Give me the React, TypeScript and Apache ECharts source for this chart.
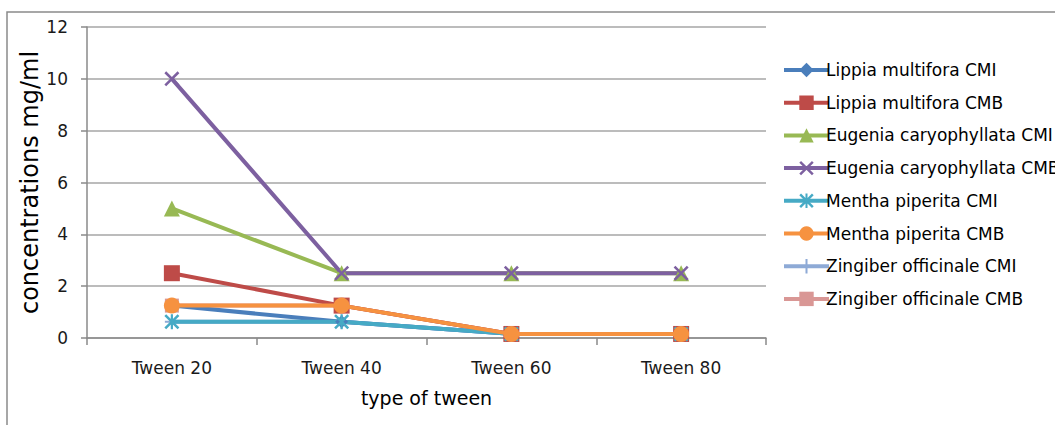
import React, { useEffect, useRef } from "react";
import * as echarts from "echarts";

const categories = ["Tween 20", "Tween 40", "Tween 60", "Tween 80"];
const yTicks = { min: 0, max: 12, interval: 2 };

const lippiaCMI = [1.25, 0.625, 0.156, 0.156];
const lippiaCMB = [2.5, 1.25, 0.156, 0.156];
const eugeniaCMI = [5, 2.5, 2.5, 2.5];
const eugeniaCMB = [10, 2.5, 2.5, 2.5];
const menthaCMI = [0.625, 0.625, 0.156, 0.156];
const menthaCMB = [1.25, 1.25, 0.156, 0.156];
const zingiberCMI = [0.625, 0.625, 0.156, 0.156];
const zingiberCMB = [1.25, 1.25, 0.156, 0.156];

const X_PATH = "path://M0,1.2 L1.2,0 L10,8.8 L8.8,10 Z M8.8,0 L10,1.2 L1.2,10 L0,8.8 Z";
const STAR_PATH =
  "path://M0,1.2 L1.2,0 L10,8.8 L8.8,10 Z M8.8,0 L10,1.2 L1.2,10 L0,8.8 Z M4.3,0 L5.7,0 L5.7,10 L4.3,10 Z";
const PLUS_PATH = "path://M4.3,0 L5.7,0 L5.7,10 L4.3,10 Z M0,4.3 L10,4.3 L10,5.7 L0,5.7 Z";
const DASH_PATH = "path://M0,4 L10,4 L10,6 L0,6 Z";

const FONT = "DejaVu Sans";

export default function App() {
  const ref = useRef<HTMLDivElement>(null);
  useEffect(() => {
    document.body.style.margin = "0";
    if (!ref.current) return;
    const chart = echarts.init(ref.current, undefined, { renderer: "svg" });
    const mk = (
      name: string,
      data: number[],
      color: string,
      symbol: string,
      symbolSize: number,
      z: number
    ) => ({
      name,
      type: "line",
      data,
      symbol,
      symbolSize,
      z,
      lineStyle: { color, width: 4 },
      itemStyle: { color },
      emphasis: { disabled: true },
    });
    chart.setOption({
      animation: false,
      textStyle: { fontFamily: FONT },
      grid: { left: 87, top: 27, width: 679, height: 311 },
      graphic: [
        {
          type: "rect",
          shape: { x: 7, y: 12, width: 1200, height: 600 },
          style: { fill: "none", stroke: "#8a8a8a", lineWidth: 1.5 },
          silent: true,
          z: -1,
        },
      ],
      legend: {
        orient: "vertical",
        left: 777,
        top: 55,
        itemWidth: 45,
        itemHeight: 18,
        itemGap: 12.7,
        lineStyle: { width: 4 },
        textStyle: {
          fontFamily: FONT,
          fontSize: 17,
          color: "#000",
          lineHeight: 20,
          padding: [0, 0, 0, -8],
        },
      },
      xAxis: {
        type: "category",
        data: categories,
        boundaryGap: true,
        name: "type of tween",
        nameLocation: "middle",
        nameGap: 50,
        nameTextStyle: { fontFamily: FONT, fontSize: 19, color: "#000" },
        axisLine: { lineStyle: { color: "#8a8a8a", width: 1.5 } },
        axisTick: { show: true, length: 7, lineStyle: { color: "#8a8a8a", width: 1.5 } },
        axisLabel: { fontFamily: FONT, fontSize: 17, color: "#1a1a1a", margin: 21 },
      },
      yAxis: {
        type: "value",
        min: yTicks.min,
        max: yTicks.max,
        interval: yTicks.interval,
        name: "concentrations mg/ml",
        nameLocation: "middle",
        nameGap: 45,
        nameMoveOverlap: false,
        nameTextStyle: { fontFamily: FONT, fontSize: 24, color: "#000" },
        axisLine: { show: true, lineStyle: { color: "#8a8a8a", width: 1.5 } },
        axisTick: { show: true, length: 6, lineStyle: { color: "#8a8a8a", width: 1.5 } },
        axisLabel: { fontFamily: FONT, fontSize: 17, color: "#1a1a1a", margin: 19 },
        splitLine: { lineStyle: { color: "#a6a6a6", width: 1.5 } },
      },
      series: [
        mk("Lippia multifora CMI", lippiaCMI, "#4a7ebb", "diamond", 13, 3),
        mk("Lippia multifora CMB", lippiaCMB, "#be4b48", "rect", 16, 3),
        mk("Eugenia caryophyllata CMI", eugeniaCMI, "#98b954", "triangle", 16, 3),
        mk("Eugenia caryophyllata CMB", eugeniaCMB, "#7d60a0", X_PATH, 15, 3),
        mk("Mentha piperita CMI", menthaCMI, "#46aac5", STAR_PATH, 15, 3),
        mk("Mentha piperita CMB", menthaCMB, "#f69240", "circle", 16, 4),
        mk("Zingiber officinale CMI", zingiberCMI, "#8eaad6", PLUS_PATH, 14, 1),
        mk("Zingiber officinale CMB", zingiberCMB, "#d99795", DASH_PATH, 14, 1),
      ],
    });
    return () => chart.dispose();
  }, []);
  return <div ref={ref} style={{ width: 1055, height: 425 }} />;
}
